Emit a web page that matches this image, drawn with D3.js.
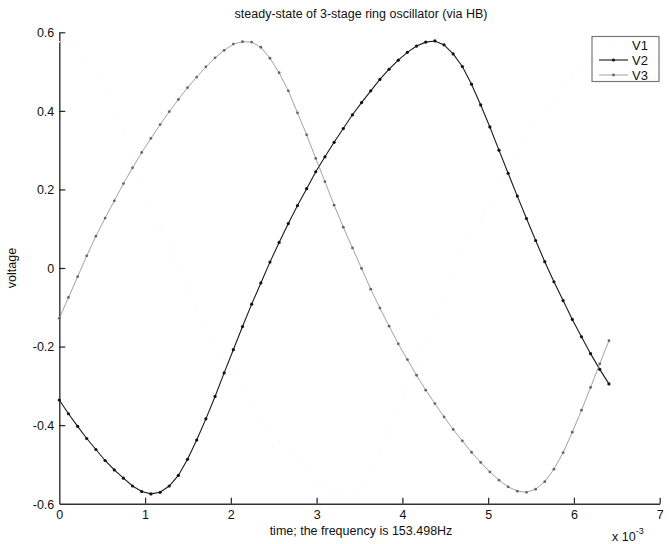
<!DOCTYPE html>
<html><head><meta charset="utf-8">
<script src="https://cdn.jsdelivr.net/npm/d3@7"></script>
<style>body{margin:0;background:#fff}svg{display:block}text{font-family:"Liberation Sans",Arial,Helvetica,sans-serif;fill:#111}</style>
</head><body>
<script>
// time in units of 1e-3 s
const time = [0,0.107,0.214,0.320,0.427,0.534,0.641,0.748,0.854,0.961,1.068,1.175,1.282,1.388,1.495,1.602,1.709,1.816,1.922,2.029,2.136,2.243,2.350,2.456,2.563,2.670,2.777,2.884,2.990,3.097,3.204,3.311,3.418,3.524,3.631,3.738,3.845,3.952,4.058,4.165,4.272,4.379,4.486,4.592,4.699,4.806,4.913,5.020,5.126,5.233,5.340,5.447,5.554,5.660,5.767,5.874,5.981,6.088,6.194,6.301,6.408];
const V1 = [0.576,0.575,0.562,0.534,0.497,0.451,0.395,0.339,0.279,0.220,0.160,0.104,0.051,-0.001,-0.054,-0.102,-0.148,-0.193,-0.233,-0.273,-0.311,-0.345,-0.379,-0.411,-0.440,-0.469,-0.495,-0.519,-0.540,-0.557,-0.568,-0.571,-0.563,-0.544,-0.512,-0.470,-0.418,-0.362,-0.304,-0.244,-0.185,-0.128,-0.075,-0.022,0.031,0.081,0.127,0.171,0.215,0.255,0.294,0.330,0.365,0.398,0.429,0.459,0.486,0.512,0.535,0.554,0.570];
const V2 = [-0.336,-0.371,-0.403,-0.434,-0.462,-0.490,-0.514,-0.535,-0.555,-0.569,-0.575,-0.571,-0.555,-0.528,-0.487,-0.438,-0.384,-0.327,-0.267,-0.208,-0.149,-0.092,-0.038,0.015,0.065,0.113,0.159,0.202,0.245,0.283,0.320,0.355,0.390,0.421,0.451,0.480,0.506,0.529,0.549,0.565,0.575,0.578,0.568,0.545,0.513,0.468,0.415,0.359,0.300,0.241,0.183,0.126,0.070,0.016,-0.035,-0.083,-0.131,-0.175,-0.218,-0.258,-0.295];
const V3 = [-0.128,-0.075,-0.022,0.031,0.081,0.127,0.171,0.215,0.255,0.294,0.330,0.365,0.398,0.429,0.459,0.486,0.512,0.535,0.554,0.570,0.576,0.575,0.562,0.534,0.497,0.451,0.395,0.339,0.279,0.220,0.160,0.104,0.051,-0.001,-0.054,-0.102,-0.148,-0.193,-0.233,-0.273,-0.311,-0.345,-0.379,-0.411,-0.440,-0.469,-0.495,-0.519,-0.540,-0.557,-0.568,-0.571,-0.563,-0.544,-0.512,-0.470,-0.418,-0.362,-0.304,-0.244,-0.185];
const seriesNames = ["V1","V2","V3"];
const xTicks = [0,1,2,3,4,5,6,7];
const yTicks = [-0.6,-0.4,-0.2,0,0.2,0.4,0.6];
const yTickLabels = ["-0.6","-0.4","-0.2","0","0.2","0.4","0.6"];
const titleText = "steady-state of 3-stage ring oscillator (via HB)";
const xLabelText = "time; the frequency is 153.498Hz";
const yLabelText = "voltage";

const W = 670, H = 544;
const svg = d3.select("body").append("svg").attr("width", W).attr("height", H);
const x = d3.scaleLinear().domain([0, 7]).range([59.3, 659.7]);
const y = d3.scaleLinear().domain([-0.6, 0.6]).range([503.7, 32.3]);

// V1 was drawn in a colour that is practically invisible in the reference (yellow on a grey scan)
const styles = {
  V1: {stroke: "#fbfbfb", width: 0.6, r: 0.8, fill: "#f7f7f7"},
  V2: {stroke: "#1a1a1a", width: 1.1, r: 1.6, fill: "#111"},
  V3: {stroke: "#8a8a8a", width: 0.8, r: 1.4, fill: "#666"}
};
const dataBy = {V1, V2, V3};

// axes
const xAxis = d3.axisBottom(x).tickValues(xTicks).tickFormat(d3.format("d")).tickSizeInner(-6).tickSizeOuter(0).tickPadding(6);
const yAxis = d3.axisLeft(y).tickValues(yTicks).tickFormat((d, i) => yTickLabels[i]).tickSizeInner(-6).tickSizeOuter(0).tickPadding(5);

const gx = svg.append("g").attr("transform", `translate(0,${y(-0.6)})`).call(xAxis);
const gy = svg.append("g").attr("transform", `translate(${x(0)},0)`).call(yAxis);
[gx, gy].forEach(g => {
  g.select(".domain").attr("stroke", "#333").attr("stroke-width", 1.4);
  g.selectAll(".tick line").attr("stroke", "#222").attr("stroke-width", 1.2);
  g.selectAll(".tick text").attr("font-size", 12.5).attr("fill", "#111")
    .attr("font-family", "'Liberation Sans', Arial, sans-serif");
});
gx.selectAll(".tick").filter(d => d === 0).select("line").remove();
gy.selectAll(".tick").filter(d => d === -0.6).select("line").remove();
gy.selectAll(".tick text").attr("dy", "0.35em");

// lines
const line = d3.line().x((d, i) => x(time[i])).y(d => y(d));
seriesNames.forEach(name => {
  const s = styles[name];
  svg.append("path").datum(dataBy[name]).attr("d", line)
    .attr("fill", "none").attr("stroke", s.stroke).attr("stroke-width", s.width);
  svg.append("g").selectAll("circle").data(dataBy[name]).join("circle")
    .attr("cx", (d, i) => x(time[i])).attr("cy", d => y(d)).attr("r", s.r)
    .attr("fill", s.fill);
});

// title and labels
svg.append("text").attr("x", 361).attr("y", 18).attr("text-anchor", "middle")
  .attr("font-size", 12.5).text(titleText);
svg.append("text").attr("x", 361).attr("y", 535).attr("text-anchor", "middle")
  .attr("font-size", 12.5).text(xLabelText);
svg.append("text").attr("transform", `translate(16,${y(0)}) rotate(-90)`).attr("text-anchor", "middle")
  .attr("font-size", 12.5).text(yLabelText);
const ex = svg.append("text").attr("x", 612).attr("y", 541).attr("font-size", 12.5);
ex.append("tspan").text("x 10");
ex.append("tspan").attr("font-size", 9).attr("dy", -7).text("-3");

// legend
const lg = svg.append("g");
lg.append("rect").attr("x", 592).attr("y", 36.5).attr("width", 67).attr("height", 45)
  .attr("fill", "#fff").attr("stroke", "#777").attr("stroke-width", 1.2);
seriesNames.forEach((name, i) => {
  const s = styles[name];
  const yy = 45 + i * 15;
  lg.append("line").attr("x1", 599).attr("x2", 628).attr("y1", yy).attr("y2", yy)
    .attr("stroke", s.stroke).attr("stroke-width", s.width);
  lg.append("circle").attr("cx", 613.5).attr("cy", yy).attr("r", s.r).attr("fill", s.fill);
  lg.append("text").attr("x", 632).attr("y", yy).attr("dy", "0.36em").attr("font-size", 13).text(name);
});
</script>
</body></html>
